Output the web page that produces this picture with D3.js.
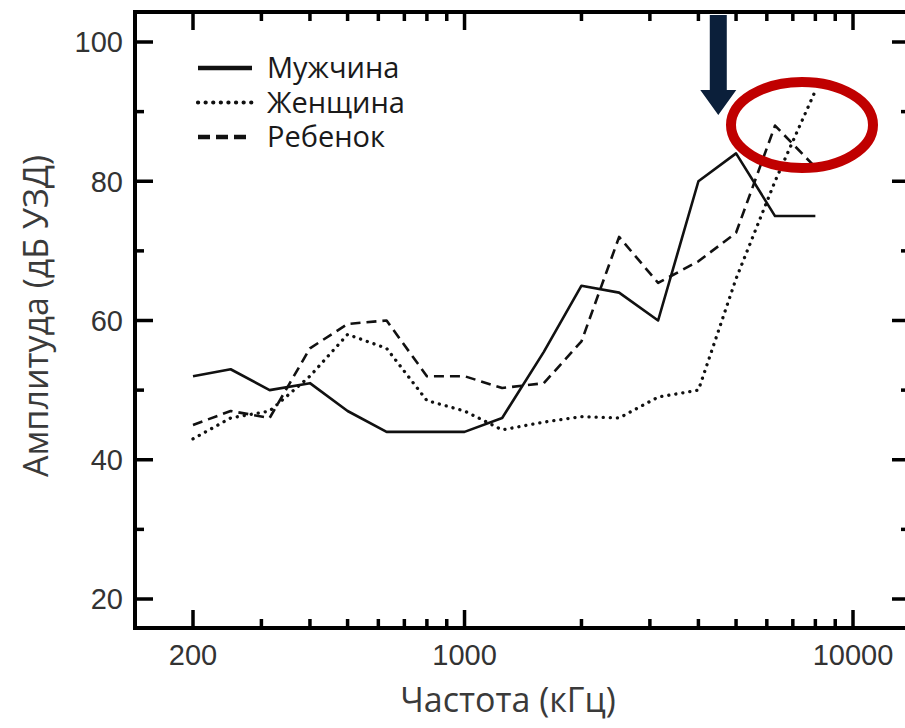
<!DOCTYPE html>
<html>
<head>
<meta charset="utf-8">
<script src="https://cdn.jsdelivr.net/npm/d3@7"></script>
<style>
  html, body { margin: 0; padding: 0; background: #fff; overflow: hidden; }
</style>
</head>
<body>
<svg id="chart" width="905" height="728"></svg>
<script>
// 1/3-octave frequencies (Hz) and thresholds
const freqs  = [200, 250, 315, 400, 500, 630, 800, 1000, 1250, 1600, 2000, 2500, 3150, 4000, 5000, 6300, 8000];
const man    = [52, 53, 50, 51, 47, 44, 44, 44, 46, 55.5, 65, 64, 60, 80, 84, 75, 75];
const woman  = [43, 46, 47, 52, 58, 56, 48.5, 47, 44.3, 45.4, 46.2, 46, 49, 50, 66, 80, 93];
const child  = [45, 47, 46, 56, 59.5, 60, 52, 52, 50.3, 51, 57, 72, 65.4, 68.5, 72.6, 88, 82];

const seriesNames = ["Мужчина", "Женщина", "Ребенок"];
const xLabelTicks = [200, 1000, 10000];
const xMinorTicks = [300, 400, 500, 600, 700, 800, 900, 2000, 3000, 4000, 5000, 6000, 7000, 8000, 9000];
const yLabelTicks = [20, 40, 60, 80, 100];
const yMinorTicks = [30, 50, 70, 90];

const svg = d3.select("#chart");

// frame of the plot (right edge runs past the picture)
const frame = { left: 135, right: 910, top: 12, bottom: 628 };

const x = d3.scaleLog().domain([200, 10000]).range([193, 853]);
const y = d3.scaleLinear().domain([20, 100]).range([599, 42]);

const series = [
  { name: seriesNames[0], values: man,   dash: null,    cap: "butt",  width: 2.6, legendDash: null,      legendWidth: 4.5 },
  { name: seriesNames[1], values: woman, dash: "0.1 7", cap: "round", width: 3.3, legendDash: "0.1 7.5", legendWidth: 4.2 },
  { name: seriesNames[2], values: child, dash: "10 6",  cap: "butt",  width: 2.6, legendDash: "12 6",    legendWidth: 4.5 }
];

const line = d3.line()
  .x(d => x(d[0]))
  .y(d => y(d[1]));

// data lines
svg.append("g")
  .selectAll("path")
  .data(series)
  .enter().append("path")
  .attr("d", s => line(freqs.map((f, i) => [f, s.values[i]])))
  .style("fill", "none")
  .style("stroke", "#111")
  .style("stroke-width", d => d.width)
  .style("stroke-linecap", d => d.cap)
  .style("stroke-linejoin", "round")
  .style("stroke-dasharray", d => d.dash);

// frame
svg.append("rect")
  .attr("x", frame.left)
  .attr("y", frame.top)
  .attr("width", frame.right - frame.left)
  .attr("height", frame.bottom - frame.top)
  .style("fill", "none")
  .style("stroke", "#000")
  .style("stroke-width", 4);

const ticks = svg.append("g").style("stroke", "#000").style("stroke-width", 3.5);

// x ticks, bottom (pointing up) and top (pointing down)
function xTick(v, len) {
  ticks.append("line")
    .attr("x1", x(v)).attr("x2", x(v))
    .attr("y1", frame.bottom).attr("y2", frame.bottom - len);
  ticks.append("line")
    .attr("x1", x(v)).attr("x2", x(v))
    .attr("y1", frame.top).attr("y2", frame.top + len);
}
xLabelTicks.forEach(v => xTick(v, 18));
xMinorTicks.forEach(v => xTick(v, 9));

// y ticks, left and right (pointing in)
function yTick(v, len) {
  ticks.append("line")
    .attr("x1", frame.left).attr("x2", frame.left + len)
    .attr("y1", y(v)).attr("y2", y(v));
  ticks.append("line")
    .attr("x1", frame.right).attr("x2", frame.right - len)
    .attr("y1", y(v)).attr("y2", y(v));
}
yLabelTicks.forEach(v => yTick(v, 18));
yMinorTicks.forEach(v => yTick(v, 9));

// tick labels
svg.append("g")
  .selectAll("text")
  .data(yLabelTicks)
  .enter().append("text")
  .attr("x", 123)
  .attr("y", d => y(d))
  .attr("dy", "0.36em")
  .attr("text-anchor", "end")
  .style("font-family", "'Liberation Sans', Arial, sans-serif")
  .style("font-size", "29px")
  .style("fill", "#333")
  .text(d => d);

svg.append("g")
  .selectAll("text")
  .data(xLabelTicks)
  .enter().append("text")
  .attr("x", d => x(d))
  .attr("y", 665)
  .attr("text-anchor", "middle")
  .style("font-family", "'Liberation Sans', Arial, sans-serif")
  .style("font-size", "29px")
  .style("fill", "#333")
  .text(d => d);

// axis titles
svg.append("text")
  .attr("x", 508)
  .attr("y", 712)
  .attr("text-anchor", "middle")
  .style("font-family", "'Open Sans', sans-serif")
  .style("font-size", "34px")
  .style("fill", "#3a3a3a")
  .text("Частота (кГц)");

svg.append("text")
  .attr("transform", "translate(48,316) rotate(-90)")
  .attr("text-anchor", "middle")
  .style("font-family", "'Open Sans', sans-serif")
  .style("font-size", "34px")
  .style("fill", "#3a3a3a")
  .text("Амплитуда (дБ УЗД)");

// legend
const legend = svg.append("g")
  .selectAll("g")
  .data(series)
  .enter().append("g")
  .attr("transform", (d, i) => `translate(198,${68 + i * 34.5})`);

legend.append("line")
  .attr("x1", 0).attr("x2", 54)
  .style("stroke", "#111")
  .style("stroke-width", d => d.legendWidth)
  .style("stroke-linecap", d => d.cap)
  .style("stroke-dasharray", d => d.legendDash);

legend.append("text")
  .attr("x", 69)
  .attr("y", 10)
  .style("font-family", "'Open Sans', sans-serif")
  .style("font-size", "29px")
  .style("fill", "#1a1a1a")
  .text(d => d.name);

// annotation: arrow pointing at the male peak
const arrowX = x(4500);
svg.append("path")
  .attr("d", `M${arrowX - 8.5},15 L${arrowX + 8.5},15 L${arrowX + 8.5},90 L${arrowX + 18},90
              L${arrowX},115 L${arrowX - 18},90 L${arrowX - 8.5},90 Z`)
  .style("fill", "#0b1f3a");

// annotation: red ellipse around the high-frequency peaks
svg.append("ellipse")
  .attr("cx", 802)
  .attr("cy", 125)
  .attr("rx", 71)
  .attr("ry", 43)
  .style("fill", "none")
  .style("stroke", "#c00000")
  .style("stroke-width", 10);
</script>
</body>
</html>
